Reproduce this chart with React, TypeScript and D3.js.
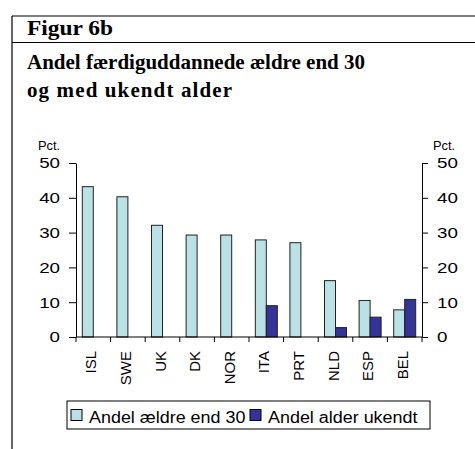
import React, { useEffect, useRef } from 'react';
import * as d3 from 'd3';

const countries = ['ISL', 'SWE', 'UK', 'DK', 'NOR', 'ITA', 'PRT', 'NLD', 'ESP', 'BEL'];
const seriesNames = ['Andel ældre end 30', 'Andel alder ukendt'];
const olderThan30 = [43.2, 40.3, 32.1, 29.3, 29.3, 27.9, 27.1, 16.2, 10.5, 7.8];
const ageUnknown = [null, null, null, null, null, 9.0, null, 2.7, 5.7, 10.8];
const yTicks = [0, 10, 20, 30, 40, 50];
const seriesColors = ['#bae2e4', '#333399'];

const W = 475;
const H = 449;

// stretch the text horizontally, like the original export does
const widen = (sel: any, k: number) => {
  sel.each(function (this: any) {
    const w = this.getComputedTextLength();
    d3.select(this).attr('textLength', w * k).attr('lengthAdjust', 'spacingAndGlyphs');
  });
};

const App = () => {
  const chartRef = useRef<SVGGElement>(null);

  useEffect(() => {
    const g = d3.select(chartRef.current);
    g.selectAll('*').remove();

    const left = 76;
    const right = 422;
    const top = 163;
    const bottom = 337;

    const x = d3.scaleBand().domain(countries).range([left, right]).padding(0);
    const inner = d3.scaleBand().domain(seriesNames).range([0, x.bandwidth()]).paddingInner(0).paddingOuter(0.573);
    const y = d3.scaleLinear().domain([0, 50]).range([bottom, top]);

    const font = 'Arial, "Liberation Sans", sans-serif';

    // bars
    const rows = countries.map((c, i) => ({ c, vals: [olderThan30[i], ageUnknown[i]] }));
    const grp = g.selectAll('.grp').data(rows).join('g').attr('class', 'grp')
      .attr('transform', (d) => `translate(${x(d.c)},0)`);
    grp.selectAll('rect')
      .data((d) => d.vals.map((v, j) => ({ v, s: seriesNames[j], j })).filter((e) => e.v != null))
      .join('rect')
      .attr('x', (d) => inner(d.s)!)
      .attr('width', inner.bandwidth())
      .attr('y', (d) => y(d.v as number))
      .attr('height', (d) => bottom - y(d.v as number))
      .attr('fill', (d) => seriesColors[d.j])
      .attr('stroke', '#222')
      .attr('stroke-width', 1);

    // y axes
    const yl = g.append('g').attr('transform', `translate(${left},0)`)
      .call(d3.axisLeft(y).tickValues(yTicks).tickSize(7).tickSizeOuter(0).tickPadding(9));
    const yr = g.append('g').attr('transform', `translate(${right},0)`)
      .call(d3.axisRight(y).tickValues(yTicks).tickSize(6).tickSizeOuter(0).tickPadding(9));
    [yl, yr].forEach((a) => {
      a.selectAll('path, line').attr('stroke', '#000').attr('stroke-width', 1);
      a.selectAll('text').attr('font-family', font).attr('font-size', 15).attr('fill', '#000');
      widen(a.selectAll('text'), 1.25);
    });

    // x axis
    const xa = g.append('g');
    xa.append('line').attr('x1', left).attr('x2', right).attr('y1', bottom).attr('y2', bottom)
      .attr('stroke', '#000');
    const edges = countries.map((c) => x(c)!).concat([right]);
    xa.selectAll('.tk').data(edges).join('line').attr('class', 'tk')
      .attr('x1', (d) => d).attr('x2', (d) => d)
      .attr('y1', bottom).attr('y2', bottom + 5).attr('stroke', '#000');
    xa.selectAll('.lbl').data(countries).join('text').attr('class', 'lbl')
      .attr('transform', (d) => `translate(${x(d)! + x.bandwidth() / 2},351) rotate(-90)`)
      .attr('text-anchor', 'end').attr('dy', '0.2em')
      .attr('font-family', font).attr('font-size', 15)
      .text((d) => d);

    // unit labels
    const units = g.selectAll('.unit').data([38, 433]).join('text').attr('class', 'unit')
      .attr('x', (d) => d).attr('y', 150)
      .attr('font-family', font).attr('font-size', 12)
      .text('Pct.');
    widen(units, 1.07);

    // legend
    const lg = g.append('g');
    lg.append('rect').attr('x', 67).attr('y', 401).attr('width', 363).attr('height', 28)
      .attr('fill', '#fff').attr('stroke', '#000');
    const itemX = [71, 250];
    seriesNames.forEach((s, i) => {
      lg.append('rect').attr('x', itemX[i]).attr('y', 409.5).attr('width', 11).attr('height', 11)
        .attr('fill', seriesColors[i]).attr('stroke', '#000');
      const t = lg.append('text').attr('x', itemX[i] + 18).attr('y', 423)
        .attr('font-family', font).attr('font-size', 16).text(s);
      widen(t, 1.12);
    });
  }, []);

  const serif = '"Liberation Serif", "Times New Roman", serif';

  return (
    <svg width={W} height={H} style={{ position: 'absolute', left: 0, top: 0, background: '#fff' }}>
      <line x1={12} x2={W} y1={16} y2={16} stroke="#000" strokeWidth={1.2} />
      <line x1={12} x2={W} y1={42.5} y2={42.5} stroke="#000" strokeWidth={1.2} />
      <line x1={12} x2={12} y1={16} y2={H} stroke="#000" strokeWidth={1.2} />
      <text x={27} y={35} fontFamily={serif} fontWeight="bold" fontSize={21} textLength={86} lengthAdjust="spacingAndGlyphs">
        Figur 6b
      </text>
      <text x={27} y={69} fontFamily={serif} fontWeight="bold" fontSize={21}>
        Andel færdiguddannede ældre end 30
      </text>
      <text x={27} y={97} fontFamily={serif} fontWeight="bold" fontSize={21} textLength={205} lengthAdjust="spacing">
        og med ukendt alder
      </text>
      <g ref={chartRef} />
    </svg>
  );
};

export default App;
